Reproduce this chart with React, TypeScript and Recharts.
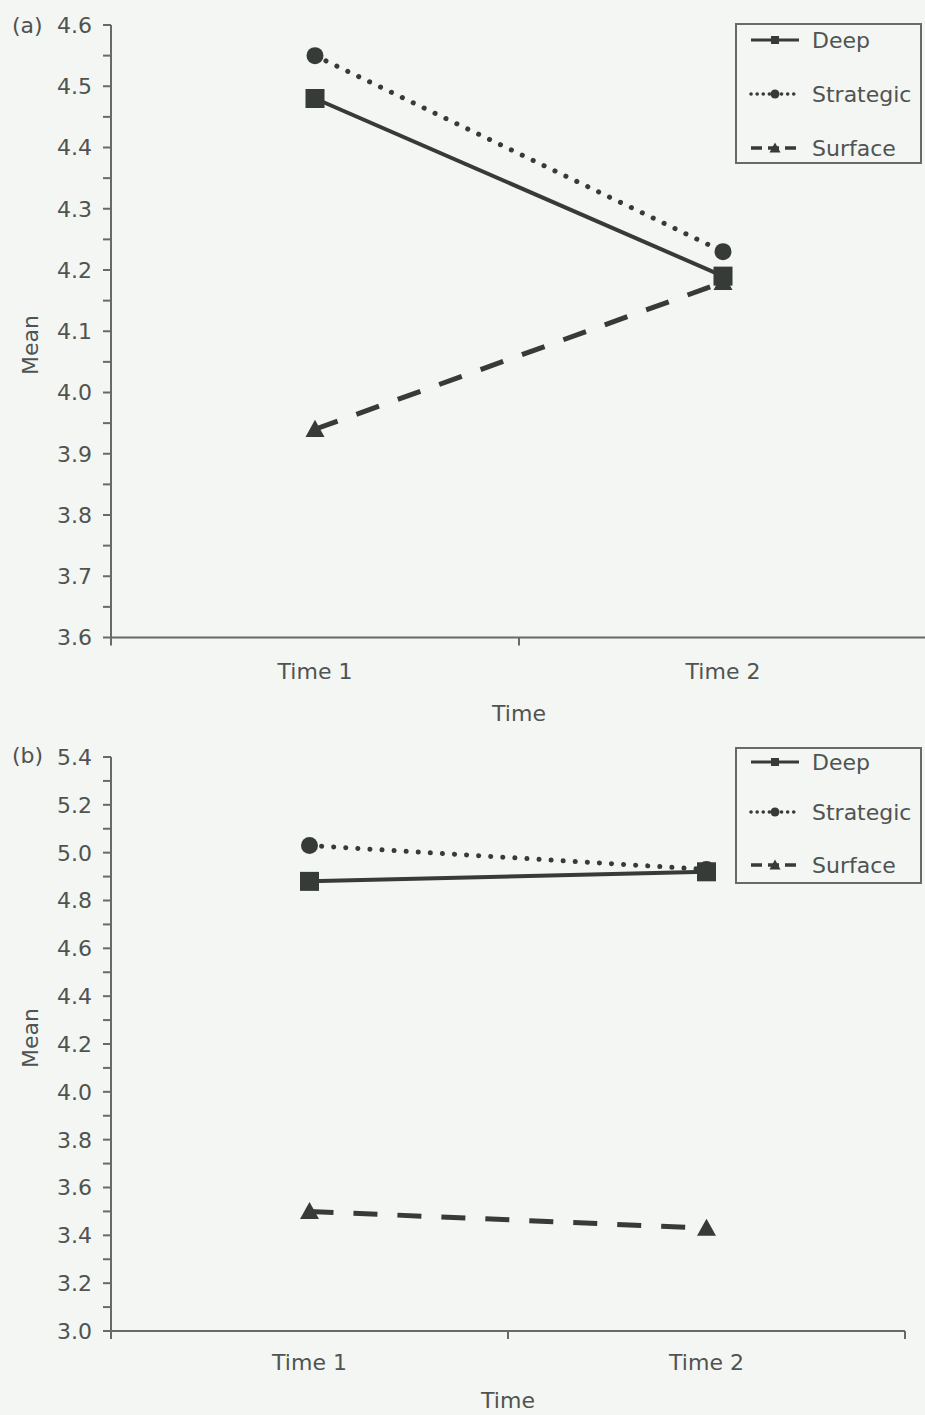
import React from 'react';
import { LineChart, Line, XAxis, YAxis, Legend, Label } from 'recharts';

// ---------- data ----------
const categories = ['Time 1', 'Time 2'];
const seriesNames = ['Deep', 'Strategic', 'Surface'];

// Panel (a)
const aDeep = [4.48, 4.19];
const aStrategic = [4.55, 4.23];
const aSurface = [3.94, 4.18];
const aYMajor = [3.6, 3.7, 3.8, 3.9, 4.0, 4.1, 4.2, 4.3, 4.4, 4.5, 4.6];
const aYMinor = [3.65, 3.75, 3.85, 3.95, 4.05, 4.15, 4.25, 4.35, 4.45, 4.55];

// Panel (b)
const bDeep = [4.88, 4.92];
const bStrategic = [5.03, 4.93];
const bSurface = [3.5, 3.43];
const bYMajor = [3.0, 3.2, 3.4, 3.6, 3.8, 4.0, 4.2, 4.4, 4.6, 4.8, 5.0, 5.2, 5.4];
const bYMinor = [3.1, 3.3, 3.5, 3.7, 3.9, 4.1, 4.3, 4.5, 4.7, 4.9, 5.1, 5.3];

// ---------- style ----------
const BG = '#f3f6f2';
const TEXT = '#4f5351';
const AXIS = '#676b68';
const INK = '#363b38';
const FONT = "'DejaVu Sans', sans-serif";
const FS = 22;

type Row = { time: string; slot: number; Deep: number; Strategic: number; Surface: number };

const buildRows = (deep: number[], strategic: number[], surface: number[]): Row[] =>
  categories.map((c, i) => ({ time: c, slot: i + 0.5, Deep: deep[i], Strategic: strategic[i], Surface: surface[i] }));

// x ticks: category boundaries (tick marks) + category centres (labels)
const xBoundaries = categories.map((_, i) => i).concat([categories.length]);
const xCentres = categories.map((_, i) => i + 0.5);
const xTicks = [...xBoundaries, ...xCentres].sort((p, q) => p - q);

const markerSize: Record<string, number> = { Deep: 19, Strategic: 17, Surface: 19 };

const drawMarker = (name: string, cx: number, cy: number, s: number) => {
  if (name === 'Deep') return <rect x={cx - s / 2} y={cy - s / 2} width={s} height={s} fill={INK} />;
  if (name === 'Strategic') return <circle cx={cx} cy={cy} r={s / 2} fill={INK} />;
  const h = s * 0.9;
  return (
    <polygon
      points={`${cx},${cy - h * 0.55} ${cx + s / 2},${cy + h * 0.45} ${cx - s / 2},${cy + h * 0.45}`}
      fill={INK}
    />
  );
};

const lineStyle: Record<string, any> = {
  Deep: { strokeWidth: 4 },
  Strategic: { strokeWidth: 5, strokeDasharray: '0.1 12', strokeLinecap: 'round' },
  Surface: { strokeWidth: 5, strokeDasharray: '24 20' },
};

const legendLineStyle: Record<string, any> = {
  Deep: { strokeWidth: 3 },
  Strategic: { strokeWidth: 3.5, strokeDasharray: '0.1 6', strokeLinecap: 'round' },
  Surface: { strokeWidth: 3.5, strokeDasharray: '11 6' },
};

const legendMarkerSize: Record<string, number> = { Deep: 8, Strategic: 9, Surface: 11 };

type PanelProps = {
  deep: number[];
  strategic: number[];
  surface: number[];
  yMajor: number[];
  yMinor: number[];
  top: number;
  width: number;
  height: number;
  marginTop: number;
  marginRight: number;
  plotHeight: number;
  xLabelDy: number;
  xTitleDy: number;
  meanCenterY: number;
  legendTop: number;
  legendHeight: number;
  legendRows: number[];
};

function Panel(p: PanelProps) {
  const rows = buildRows(p.deep, p.strategic, p.surface);
  const yTicks = [...p.yMajor, ...p.yMinor].sort((a, b) => a - b);
  const domain = [p.yMajor[0], p.yMajor[p.yMajor.length - 1]];
  const xAxisHeight = p.height - p.marginTop - p.plotHeight;

  const YTick = (props: any) => {
    const { x, y, payload } = props;
    const v = payload.value;
    if (!p.yMajor.some((m) => Math.abs(m - v) < 1e-6)) return <g />;
    return (
      <text x={x} y={y} dy="0.36em" textAnchor="end" fill={TEXT} fontSize={FS} fontFamily={FONT}>
        {v.toFixed(1)}
      </text>
    );
  };

  const XTick = (props: any) => {
    const { x, y, payload } = props;
    const v = payload.value;
    if (Number.isInteger(v)) {
      return <line x1={x} x2={x} y1={y - 8} y2={y} stroke={AXIS} strokeWidth={2} />;
    }
    return (
      <text x={x} y={y + p.xLabelDy} textAnchor="middle" fill={TEXT} fontSize={FS} fontFamily={FONT}>
        {categories[Math.floor(v)]}
      </text>
    );
  };

  const XTitle = (props: any) => {
    const vb = props.viewBox || {};
    return (
      <text x={vb.x + vb.width / 2} y={vb.y + p.xTitleDy} textAnchor="middle" fill={TEXT} fontSize={FS} fontFamily={FONT}>
        Time
      </text>
    );
  };

  const YTitle = () => {
    const cy = p.meanCenterY - p.top;
    return (
      <text
        x={30}
        y={cy}
        transform={`rotate(-90, 30, ${cy})`}
        textAnchor="middle"
        dominantBaseline="central"
        fill={TEXT}
        fontSize={FS}
        fontFamily={FONT}
      >
        Mean
      </text>
    );
  };

  const LegendBox = (lp: any) => {
    const items = [...(lp.payload || [])].sort(
      (a: any, b: any) => seriesNames.indexOf(a.value) - seriesNames.indexOf(b.value)
    );
    const w = 188;
    return (
      <svg width={w} height={p.legendHeight} style={{ display: 'block' }}>
        <rect x={1} y={1} width={w - 3} height={p.legendHeight - 2} fill="none" stroke={AXIS} strokeWidth={2} />
        {items.map((it: any, i: number) => {
          const cy = p.legendRows[i];
          const name = it.value as string;
          return (
            <g key={name}>
              <line x1={16} x2={64} y1={cy} y2={cy} stroke={INK} {...legendLineStyle[name]} />
              {drawMarker(name, 40, cy, legendMarkerSize[name])}
              <text x={77} y={cy} dy="0.36em" fill={TEXT} fontSize={FS} fontFamily={FONT}>
                {name}
              </text>
            </g>
          );
        })}
      </svg>
    );
  };

  const drawOrder = ['Surface', 'Strategic', 'Deep'];

  return (
    <div style={{ position: 'absolute', left: 0, top: p.top }}>
      <LineChart
        width={p.width}
        height={p.height}
        data={rows}
        margin={{ top: p.marginTop, right: p.marginRight, bottom: 0, left: 0 }}
      >
        <XAxis
          type="number"
          dataKey="slot"
          domain={[0, categories.length]}
          ticks={xTicks}
          interval={0}
          tickLine={false}
          tickSize={8}
          tickMargin={0}
          axisLine={{ stroke: AXIS, strokeWidth: 2 }}
          tick={XTick}
          height={xAxisHeight}
        >
          <Label content={XTitle} />
        </XAxis>
        <YAxis
          type="number"
          domain={domain}
          ticks={yTicks}
          interval={0}
          width={111}
          tickSize={8}
          tickMargin={11}
          tickLine={{ stroke: AXIS, strokeWidth: 2 }}
          axisLine={{ stroke: AXIS, strokeWidth: 2 }}
          tick={YTick}
        >
          <Label content={YTitle} />
        </YAxis>
        <Legend
          layout="vertical"
          align="center"
          verticalAlign="middle"
          content={LegendBox}
          wrapperStyle={{ left: 735, top: p.legendTop - p.top, width: 188, height: p.legendHeight }}
        />
        {drawOrder.map((name) => (
          <Line
            key={name}
            type="linear"
            dataKey={name}
            name={name}
            stroke={INK}
            {...lineStyle[name]}
            isAnimationActive={false}
            activeDot={false}
            dot={(d: any) => (
              <g key={`${name}-${d.index}`}>{drawMarker(name, d.cx, d.cy, markerSize[name])}</g>
            )}
          />
        ))}
      </LineChart>
    </div>
  );
}

export default function App() {
  return (
    <div
      style={{
        position: 'absolute',
        left: 0,
        top: 0,
        width: 925,
        height: 1415,
        overflow: 'hidden',
        background: BG,
      }}
    >
      <Panel
        deep={aDeep}
        strategic={aStrategic}
        surface={aSurface}
        yMajor={aYMajor}
        yMinor={aYMinor}
        top={0}
        width={927}
        height={730}
        marginTop={25}
        marginRight={0}
        plotHeight={612.5}
        xLabelDy={33}
        xTitleDy={83}
        meanCenterY={345}
        legendTop={23}
        legendHeight={141}
        legendRows={[17, 71, 125]}
      />
      <Panel
        deep={bDeep}
        strategic={bStrategic}
        surface={bSurface}
        yMajor={bYMajor}
        yMinor={bYMinor}
        top={730}
        width={925}
        height={685}
        marginTop={27}
        marginRight={20}
        plotHeight={574}
        xLabelDy={31}
        xTitleDy={77}
        meanCenterY={1038}
        legendTop={747}
        legendHeight={137}
        legendRows={[15, 65, 118]}
      />
      <svg width={925} height={1415} style={{ position: 'absolute', left: 0, top: 0, pointerEvents: 'none' }}>
        <text x={12} y={33} fill={TEXT} fontSize={FS} fontFamily={FONT}>(a)</text>
        <text x={12} y={763} fill={TEXT} fontSize={FS} fontFamily={FONT}>(b)</text>
      </svg>
    </div>
  );
}
